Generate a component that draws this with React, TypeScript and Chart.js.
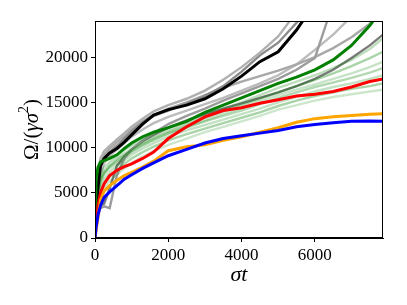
import React, { useEffect, useRef } from "react";
import { Chart, registerables } from "chart.js";

Chart.register(...registerables);

// time grid (sigma t)
const T = [0, 30, 80, 150, 250, 400, 600, 800, 1000, 1300, 1600, 2000, 2500, 3000, 3500, 4000, 4500, 5000, 5500, 6000, 6500, 7000, 7500, 7860];

const blue = [0, 1200, 2500, 3600, 4500, 5100, 5800, 6500, 7000, 7700, 8300, 9100, 9800, 10500, 11000, 11300, 11600, 11900, 12300, 12550, 12750, 12900, 12950, 12900];
const orange = [0, 900, 2200, 4200, 5200, 5800, 6400, 6900, 7250, 7850, 8500, 9650, 10100, 10300, 10800, 11200, 11700, 12200, 12800, 13200, 13400, 13550, 13700, 13750];
const red = [0, 1500, 3500, 5000, 6000, 6900, 7500, 7900, 8200, 8800, 9500, 11000, 12300, 13400, 14100, 14400, 14900, 15300, 15700, 15900, 16200, 16700, 17300, 17600];
const green = [0, 6500, 7800, 8400, 8550, 8800, 9200, 9900, 10500, 11200, 11700, 12200, 12900, 13900, 14700, 15500, 16300, 17100, 17800, 18600, 19700, 21300, 23500, 25500];
const black = [0, 3000, 5600, 8000, 8800, 9400, 9900, 10600, 11400, 12600, 13600, 14200, 14700, 15400, 16500, 17900, 19500, 20600, 23000, 26000, null, null, null, null];

const lightGreens = [
  [0, 3000, 5500, 7000, 7800, 8400, 9000, 9700, 10200, 10900, 11500, 12100, 12800, 13600, 14300, 15000, 15800, 16600, 17300, 18000, 18800, 19700, 20900, 22100],
  [0, 2500, 5000, 6500, 7300, 8000, 8700, 9300, 9800, 10500, 11100, 11800, 12500, 13300, 14000, 14700, 15400, 16100, 16800, 17500, 18200, 19000, 19900, 20600],
  [0, 2000, 4500, 6000, 7000, 7700, 8300, 8900, 9500, 10200, 10800, 11500, 12300, 13000, 13700, 14400, 15100, 15800, 16400, 17000, 17600, 18200, 18900, 19500],
  [0, 2200, 4800, 6300, 7200, 7900, 8500, 9100, 9600, 10300, 10900, 11600, 12200, 12900, 13500, 14100, 14800, 15500, 16100, 16700, 17200, 17700, 18300, 18800],
  [0, 1800, 4000, 5500, 6500, 7300, 8000, 8600, 9200, 9900, 10500, 11200, 11900, 12500, 13100, 13700, 14300, 15000, 15600, 16200, 16700, 17100, 17600, 18000],
  [0, 1500, 3500, 5000, 6000, 6800, 7500, 8200, 8800, 9500, 10100, 10800, 11500, 12100, 12700, 13300, 13900, 14600, 15200, 15700, 16100, 16500, 16800, 17100],
  [0, 1200, 3000, 4500, 5500, 6300, 7000, 7700, 8300, 9000, 9600, 10300, 11000, 11700, 12300, 12900, 13500, 14200, 14700, 15200, 15600, 15900, 16200, 16400],
];
const lightGreenAlpha = [0.26, 0.34, 0.22, 0.3, 0.24, 0.34, 0.2];

const grays = [
  [0, 3000, 6500, 8800, 9600, 10200, 10900, 11600, 12300, 13200, 14000, 14700, 15400, 16300, 17500, 18900, 20500, 22300, 25000, null, null, null, null, null],
  [0, 2500, 5500, 7800, 8800, 9500, 10200, 11000, 11800, 12800, 13500, 14100, 14900, 15700, 16800, 18400, 20200, 21600, 23800, 26000, null, null, null, null],
  [0, 2000, 2800, 3300, 3500, 3300, 7000, 8800, 9800, 10800, 11600, 12600, 13500, 14300, 15200, 16000, 16800, 17600, 18600, 19900, 26000, null, null, null],
  [0, 1800, 3000, 3600, 3800, 5500, 8000, 9000, 9800, 10700, 11400, 12200, 13000, 13700, 14300, 14900, 15500, 16100, 16800, 17600, 18600, 19900, 21300, 22500],
  [0, 2800, 6000, 8300, 9200, 9900, 10600, 11300, 12000, 12900, 13600, 14300, 15000, 15800, 16600, 17300, 17900, 18500, 19200, 20000, 21000, 22200, 23700, 25000],
  [0, 2200, 5000, 7000, 8300, 9100, 9800, 10500, 11200, 12000, 12700, 13400, 14100, 14800, 15500, 16300, 17100, 18000, 19200, 20800, 22500, 24500, null, null],
];
const grayColors = ["#b0b0b0", "#8a8a8a", "#9c9c9c", "#7a7a7a", "#a8a8a8", "#bcbcbc"];

const xTickValues = [0, 2000, 4000, 6000];
const yTickValues = [0, 5000, 10000, 15000, 20000];

const pts = (ys: (number | null)[]) => T.map((t, i) => ({ x: t, y: ys[i] }));

const FAM = "'Liberation Serif', serif";

const framePlugin = {
  id: "frame",
  afterDatasetsDraw(chart: any) {
    const { ctx, chartArea: a } = chart;
    ctx.save();
    ctx.strokeStyle = "#000";
    ctx.lineWidth = 1;
    ctx.strokeRect(Math.round(a.left) + 0.5, Math.round(a.top) + 0.5, Math.round(a.right - a.left) - 1, Math.round(a.bottom - a.top) - 1);
    ctx.restore();
  },
  afterDraw(chart: any) {
    // y-axis title: Ω/(γσ²) with upright Ω and italic γσ
    const { ctx, chartArea: a } = chart;
    const size = 21;
    const parts = [
      { t: "Ω", f: `${size}px ${FAM}`, dy: 0 },
      { t: "/(", f: `${size}px ${FAM}`, dy: 0 },
      { t: "γσ", f: `italic ${size}px ${FAM}`, dy: 0 },
      { t: "2", f: `${Math.round(size * 0.68)}px ${FAM}`, dy: -size * 0.38 },
      { t: ")", f: `${size}px ${FAM}`, dy: 0 },
    ];
    ctx.save();
    let total = 0;
    const widths = parts.map((p) => {
      ctx.font = p.f;
      const w = ctx.measureText(p.t).width;
      total += w;
      return w;
    });
    const cx = 31;
    const cy = (a.top + a.bottom) / 2;
    ctx.translate(cx, cy);
    ctx.rotate(-Math.PI / 2);
    ctx.fillStyle = "#000";
    ctx.textBaseline = "middle";
    ctx.textAlign = "left";
    let x = -total / 2;
    parts.forEach((p, i) => {
      ctx.font = p.f;
      ctx.fillText(p.t, x, p.dy + 1);
      x += widths[i];
    });
    ctx.restore();
  },
};

export default function App() {
  const ref = useRef<HTMLCanvasElement | null>(null);
  useEffect(() => {
    if (!ref.current) return;
    const main = [
      { data: pts(blue), color: "#0000ff" },
      { data: pts(orange), color: "#ffa500" },
      { data: pts(red), color: "#ff0000" },
      { data: pts(green), color: "#008000" },
      { data: pts(black), color: "#000000" },
    ];
    const datasets: any[] = [];
    main.forEach((m) =>
      datasets.push({ data: m.data, borderColor: m.color, borderWidth: 3, pointRadius: 0, tension: 0, fill: false })
    );
    lightGreens.forEach((ys, i) =>
      datasets.push({ data: pts(ys), borderColor: `rgba(0,128,0,${lightGreenAlpha[i]})`, borderWidth: 2.4, pointRadius: 0, fill: false })
    );
    grays.forEach((ys, i) =>
      datasets.push({ data: pts(ys), borderColor: grayColors[i], borderWidth: 2.4, pointRadius: 0, fill: false })
    );
    const tickFont = { family: FAM, size: 17 };
    const chart = new Chart(ref.current, {
      type: "line",
      data: { datasets },
      plugins: [framePlugin],
      options: {
        animation: false,
        responsive: false,
        events: [],
        layout: { padding: { top: 21, right: 24, left: 0, bottom: 0 } },
        plugins: { legend: { display: false }, tooltip: { enabled: false } },
        scales: {
          x: {
            type: "linear",
            min: 0,
            max: 7860,
            afterFit: (s: any) => { s.height = 67; },
            afterBuildTicks: (s: any) => { s.ticks = xTickValues.map((v) => ({ value: v })); },
            ticks: { color: "#000", font: tickFont, padding: 3, maxRotation: 0, callback: (v: any) => String(v) },
            grid: { drawOnChartArea: false, drawTicks: true, tickLength: 4, color: "#000" },
            border: { display: true, color: "#000" },
            title: { display: true, text: "σt", color: "#000", font: { family: FAM, size: 22, style: "italic" }, padding: { top: 0, bottom: 17 } },
          },
          y: {
            type: "linear",
            min: 0,
            max: 24000,
            afterFit: (s: any) => { s.width = 95; },
            afterBuildTicks: (s: any) => { s.ticks = yTickValues.map((v) => ({ value: v })); },
            ticks: { color: "#000", font: tickFont, padding: 3, callback: (v: any) => String(v) },
            grid: { drawOnChartArea: false, drawTicks: true, tickLength: 4, color: "#000" },
            border: { display: true, color: "#000" },
            title: { display: false, text: "Ω/(γσ²)" },
          },
        },
      },
    });
    return () => chart.destroy();
  }, []);
  return (
    <div style={{ position: "fixed", left: 0, top: 0, width: 407, height: 305 }}>
      <canvas ref={ref} width={407} height={305} style={{ width: 407, height: 305 }} />
    </div>
  );
}
